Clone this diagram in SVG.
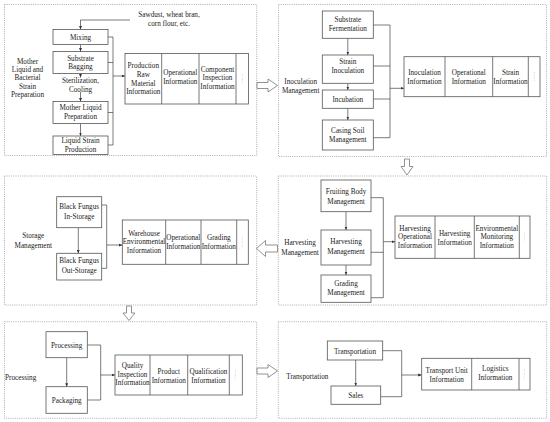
<svg xmlns="http://www.w3.org/2000/svg" width="550" height="422" viewBox="0 0 550 422">
<style>
.t{font-family:"Liberation Serif","Times New Roman",serif;font-size:7.2px;fill:#222;text-anchor:middle}
.d{font-family:"Liberation Serif","Times New Roman",serif;font-size:5px;fill:#666;text-anchor:middle}
.box{fill:#fff;stroke:#555;stroke-width:0.8}
.panel{fill:none;stroke:#999;stroke-width:0.8;stroke-dasharray:1 1.2}
.c{fill:none;stroke:#444;stroke-width:0.7}
.ca{fill:none;stroke:#444;stroke-width:0.7;marker-end:url(#ah)}
.big{fill:#fff;stroke:#777;stroke-width:0.8}
</style>
<defs>
<marker id="ah" viewBox="0 0 6 6" refX="6" refY="3" markerWidth="3.5" markerHeight="3.5" markerUnits="userSpaceOnUse" orient="auto"><path d="M0,0.5 L6,3 L0,5.5z" fill="#333"/></marker>
</defs>
<rect fill="#fff" x="0" y="0" width="550" height="422"/>

<!-- panels -->
<g id="panels">
<rect class="panel" x="4.5" y="4.5" width="252.2" height="151"/>
<rect class="panel" x="278.5" y="4.5" width="268" height="152"/>
<rect class="panel" x="4.5" y="176" width="252.2" height="129"/>
<rect class="panel" x="278.3" y="176" width="268.4" height="129"/>
<rect class="panel" x="4.5" y="321.7" width="252.2" height="96.6"/>
<rect class="panel" x="278.3" y="321.7" width="268.4" height="96.6"/>
</g>

<g id="flow-arrows">
<polygon class="big" points="257,82.5 268,82.5 268,79 277.5,85.5 268,92 268,88.5 257,88.5"/>
<polygon class="big" points="404.5,159 409.5,159 409.5,166.5 413,166.5 407,175 401,166.5 404.5,166.5"/>
<polygon class="big" points="277.5,245 265.5,245 265.5,240.5 256.5,248.5 265.5,256.5 265.5,252 277.5,252"/>
<polygon class="big" points="126.5,306 131.5,306 131.5,313 135,313 129,320.5 123,313 126.5,313"/>
<polygon class="big" points="257,368 268,368 268,364.5 277.5,371 268,377.5 268,374 257,374"/>
</g>

<!-- connectors -->
<g id="connectors">
<path class="ca" d="M130,20 H80.5 V29.5"/>
<path class="ca" d="M80.5,44.5 V51.5"/>
<path class="ca" d="M80.5,73.5 V77.5"/>
<path class="ca" d="M80.5,92 V101.5"/>
<path class="ca" d="M80.5,123.5 V136"/>
<path class="c" d="M108,37 H113 M108,62.5 H113 M108,112.5 H113 M108,145 H113 M113,37 V145"/>
<path class="ca" d="M113,76 H125"/>

<path class="ca" d="M347.8,38.3 V55"/>
<path class="ca" d="M347.8,83.3 V90"/>
<path class="ca" d="M347.8,108.3 V120"/>
<path class="c" d="M373.3,25 H390 M373.3,66 H390 M373.3,99 H390 M373.3,137.7 H390 M390,25 V137.7"/>
<path class="ca" d="M390,88.3 H404"/>

<path class="ca" d="M78.3,227.7 V253.3"/>
<path class="c" d="M101.7,205 H106.7 V268.3 H101.7"/>
<path class="ca" d="M106.7,245 H122.3"/>

<path class="ca" d="M346,211.7 V230"/>
<path class="ca" d="M346,265 V275"/>
<path class="c" d="M371,197.7 H383.3 M371,252.3 H383.3 M371,297.7 H383.3 M383.3,197.7 V297.7"/>
<path class="ca" d="M383.3,241.7 H395"/>

<path class="ca" d="M66.7,357.7 V386.7"/>
<path class="c" d="M87.3,345 H100.7 V400 H87.3"/>
<path class="ca" d="M100.7,375 H115"/>

<path class="ca" d="M355.7,360 V386"/>
<path class="c" d="M382.7,350.7 H401.7 V396.7 H380.7"/>
<path class="ca" d="M401.7,375 H421.7"/>
</g>

<!-- Panel 1 -->
<g id="label-mother">
<text class="t" x="27.5" y="63.5">Mother</text>
<text class="t" x="27.5" y="71.8">Liquid and</text>
<text class="t" x="27.5" y="80.2">Bacterial</text>
<text class="t" x="27.5" y="88.5">Strain</text>
<text class="t" x="27.5" y="96.8">Preparation</text>
</g>
<g id="input-text">
<text class="t" x="169" y="16.5">Sawdust, wheat bran,</text>
<text class="t" x="169" y="26">corn flour, etc.</text>
</g>
<g id="mixing"><rect class="box" x="53" y="29.5" width="55" height="15"/><text class="t" x="80.5" y="39.8">Mixing</text></g>
<g id="substrate-bagging"><rect class="box" x="53" y="51.5" width="55" height="22"/><text class="t" x="80.5" y="60.8">Substrate</text><text class="t" x="80.5" y="69.2">Bagging</text></g>
<g id="sterilization"><text class="t" x="80.5" y="83.2">Sterilization,</text><text class="t" x="80.5" y="91.8">Cooling</text></g>
<g id="mother-liquid"><rect class="box" x="53" y="101.5" width="55" height="22"/><text class="t" x="80.5" y="109.8">Mother Liquid</text><text class="t" x="80.5" y="118.5">Preparation</text></g>
<g id="liquid-strain"><rect class="box" x="53" y="136" width="55" height="18.5"/><text class="t" x="80.5" y="143.2">Liquid Strain</text><text class="t" x="80.5" y="151.8">Production</text></g>
<g id="info-1">
<rect class="box" x="125" y="53.5" width="123.5" height="50.5"/>
<path class="c" d="M161.7,53.5 V104 M199,53.5 V104 M236,53.5 V104" style="stroke:#555;stroke-width:0.8"/>
<text class="t" x="143.3" y="68.1">Production</text>
<text class="t" x="143.3" y="76.8">Raw</text>
<text class="t" x="143.3" y="85.5">Material</text>
<text class="t" x="143.3" y="94.2">Information</text>
<text class="t" x="180.3" y="75.2">Operational</text>
<text class="t" x="180.3" y="83.5">Information</text>
<text class="t" x="217.5" y="71.8">Component</text>
<text class="t" x="217.5" y="80.2">Inspection</text>
<text class="t" x="217.5" y="88.5">Information</text>
<text class="d" transform="translate(241.5,79) rotate(90)">……</text>
</g>

<!-- Panel 2 -->
<g id="label-inoculation"><text class="t" x="300.7" y="83.5">Inoculation</text><text class="t" x="300.7" y="92.5">Management</text></g>
<g id="substrate-fermentation"><rect class="box" x="322.3" y="11" width="51" height="27.3"/><text class="t" x="347.8" y="21.8">Substrate</text><text class="t" x="347.8" y="30.8">Fermentation</text></g>
<g id="strain-inoculation"><rect class="box" x="322.3" y="55" width="51" height="28.3"/><text class="t" x="347.8" y="64.2">Strain</text><text class="t" x="347.8" y="73.2">Inoculation</text></g>
<g id="incubation"><rect class="box" x="322.3" y="90" width="51" height="18.3"/><text class="t" x="347.8" y="101.8">Incubation</text></g>
<g id="casing-soil"><rect class="box" x="322.3" y="120" width="51" height="30"/><text class="t" x="347.8" y="132.5">Casing Soil</text><text class="t" x="347.8" y="141.5">Management</text></g>
<g id="info-2">
<rect class="box" x="404" y="56.7" width="136" height="40"/>
<path d="M445,56.7 V96.7 M492.7,56.7 V96.7 M528.3,56.7 V96.7" style="stroke:#555;stroke-width:0.8;fill:none"/>
<text class="t" x="424.5" y="75.2">Inoculation</text><text class="t" x="424.5" y="84.2">Information</text>
<text class="t" x="468.8" y="75.2">Operational</text><text class="t" x="468.8" y="84.2">Information</text>
<text class="t" x="510.5" y="75.2">Strain</text><text class="t" x="510.5" y="84.2">Information</text>
<text class="d" transform="translate(533.5,76.5) rotate(90)">……</text>
</g>

<!-- Panel 3 -->
<g id="label-storage"><text class="t" x="33.3" y="238.2">Storage</text><text class="t" x="33.3" y="247.5">Management</text></g>
<g id="in-storage"><rect class="box" x="56.7" y="196.7" width="45" height="31"/><text class="t" x="79.2" y="209.2">Black Fungus</text><text class="t" x="79.2" y="218.5">In-Storage</text></g>
<g id="out-storage"><rect class="box" x="56.7" y="253.3" width="45" height="26.7"/><text class="t" x="79.2" y="263.2">Black Fungus</text><text class="t" x="79.2" y="272.5">Out-Storage</text></g>
<g id="info-3">
<rect class="box" x="122.3" y="220" width="126" height="44.3"/>
<path d="M165.7,220 V264.3 M201,220 V264.3 M236.7,220 V264.3" style="stroke:#555;stroke-width:0.8;fill:none"/>
<text class="t" x="144" y="235.8">Warehouse</text><text class="t" x="144" y="244.2">Environmental</text><text class="t" x="144" y="252.5">Information</text>
<text class="t" x="183.3" y="240.2">Operational</text><text class="t" x="183.3" y="249.2">Information</text>
<text class="t" x="218.8" y="240.2">Grading</text><text class="t" x="218.8" y="249.2">Information</text>
<text class="d" transform="translate(241.8,242) rotate(90)">……</text>
</g>

<!-- Panel 4 -->
<g id="label-harvesting"><text class="t" x="300" y="245.2">Harvesting</text><text class="t" x="300" y="254.8">Management</text></g>
<g id="fruiting-body"><rect class="box" x="321" y="180" width="50" height="31.7"/><text class="t" x="346" y="194.2">Fruiting Body</text><text class="t" x="346" y="203.5">Management</text></g>
<g id="harvesting-mgmt"><rect class="box" x="321" y="230" width="50" height="35"/><text class="t" x="346" y="244.2">Harvesting</text><text class="t" x="346" y="253.5">Management</text></g>
<g id="grading-mgmt"><rect class="box" x="321" y="275" width="50" height="27.3"/><text class="t" x="346" y="285.8">Grading</text><text class="t" x="346" y="294.8">Management</text></g>
<g id="info-4">
<rect class="box" x="395" y="216" width="135" height="42.3"/>
<path d="M435,216 V258.3 M474.3,216 V258.3 M519.3,216 V258.3" style="stroke:#555;stroke-width:0.8;fill:none"/>
<text class="t" x="415" y="230.8">Harvesting</text><text class="t" x="415" y="239.2">Operational</text><text class="t" x="415" y="247.5">Information</text>
<text class="t" x="454.7" y="235.8">Harvesting</text><text class="t" x="454.7" y="245.2">Information</text>
<text class="t" x="496.8" y="230.8">Environmental</text><text class="t" x="496.8" y="239.2">Monitoring</text><text class="t" x="496.8" y="247.5">Information</text>
<text class="d" transform="translate(524,237) rotate(90)">……</text>
</g>

<!-- Panel 5 -->
<g id="label-processing"><text class="t" x="20.7" y="379.8">Processing</text></g>
<g id="processing"><rect class="box" x="46" y="331.7" width="41.3" height="26"/><text class="t" x="66.7" y="347.5">Processing</text></g>
<g id="packaging"><rect class="box" x="46" y="386.7" width="41.3" height="26.6"/><text class="t" x="66.7" y="402.5">Packaging</text></g>
<g id="info-5">
<rect class="box" x="115" y="355" width="127.3" height="40"/>
<path d="M150,355 V395 M187.7,355 V395 M229.3,355 V395" style="stroke:#555;stroke-width:0.8;fill:none"/>
<text class="t" x="132.5" y="368.2">Quality</text><text class="t" x="132.5" y="376.5">Inspection</text><text class="t" x="132.5" y="384.8">Information</text>
<text class="t" x="168.8" y="373.5">Product</text><text class="t" x="168.8" y="383.2">Information</text>
<text class="t" x="208.5" y="373.5">Qualification</text><text class="t" x="208.5" y="383.2">Information</text>
<text class="d" transform="translate(235,375) rotate(90)">……</text>
</g>

<!-- Panel 6 -->
<g id="label-transportation"><text class="t" x="307.3" y="378.5">Transportation</text></g>
<g id="transportation"><rect class="box" x="327.3" y="341" width="55.4" height="19"/><text class="t" x="355" y="353.5">Transportation</text></g>
<g id="sales"><rect class="box" x="331" y="386" width="49.7" height="18.3"/><text class="t" x="355.8" y="398.2">Sales</text></g>
<g id="info-6">
<rect class="box" x="421.7" y="358.3" width="108.3" height="31.7"/>
<path d="M471.7,358.3 V390 M519,358.3 V390" style="stroke:#555;stroke-width:0.8;fill:none"/>
<text class="t" x="446.7" y="372.5">Transport Unit</text><text class="t" x="446.7" y="381.8">Information</text>
<text class="t" x="495.3" y="370.8">Logistics</text><text class="t" x="495.3" y="380.2">Information</text>
<text class="d" transform="translate(523.8,374) rotate(90)">……</text>
</g>
</svg>
